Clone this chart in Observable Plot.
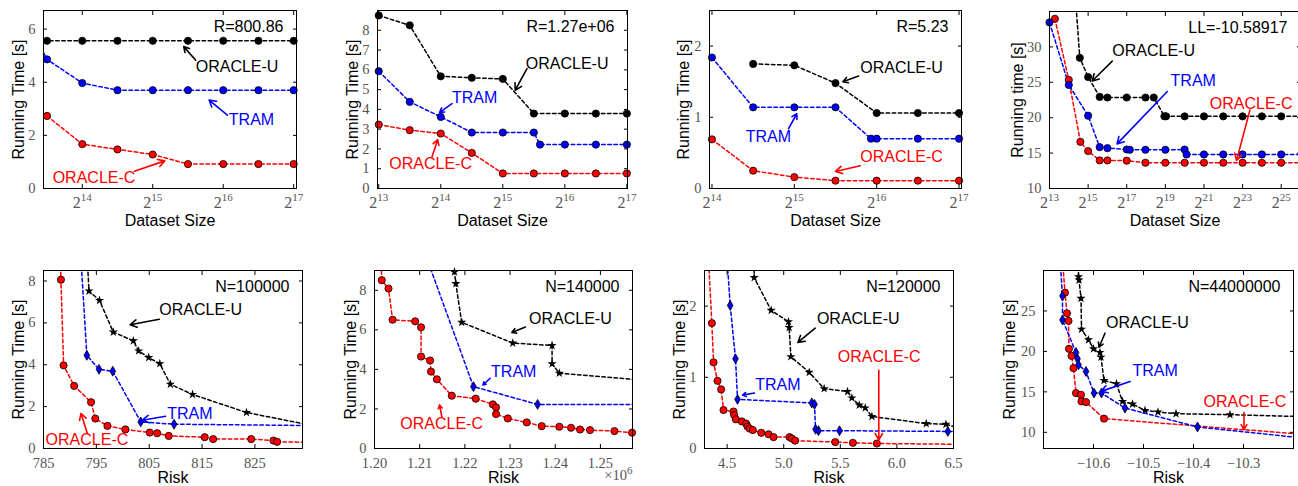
<!DOCTYPE html>
<html><head><meta charset="utf-8">
<script src="https://cdn.jsdelivr.net/npm/d3@7"></script>
<script src="https://cdn.jsdelivr.net/npm/@observablehq/plot@0.6"></script>
<style>
body{margin:0;background:#fff;}
#wrap{position:relative;width:1298px;height:486px;overflow:hidden;background:#fff;}
.pan{position:absolute;}
</style></head><body><div id="wrap"></div>
<script>
// ---------- DATA (x, y[, 0 = line vertex without marker]) ----------
// Top row: x is log2(dataset size)
const p1U = [[13.45,5.56,0],[13.5,5.56],[14,5.56],[14.5,5.56],[15,5.56],[15.5,5.56],[16,5.56],[16.5,5.56],[17,5.56]];
const p1T = [[13.45,5.12,0],[13.5,4.86],[14,3.97],[14.5,3.70],[15,3.70],[15.5,3.70],[16,3.70],[16.5,3.70],[17,3.70]];
const p1C = [[13.5,2.73],[14,1.67],[14.5,1.47],[15,1.28],[15.5,0.92],[16,0.92],[16.5,0.92],[17,0.92]];

const p2U = [[13,8.75],[13.5,8.25],[14,5.67],[14.5,5.6],[15,5.54],[15.5,3.79],[16,3.79],[16.5,3.79],[17,3.79]];
const p2T = [[13,5.93],[13.5,4.38],[14,3.62],[14.5,2.83],[15,2.83],[15.5,2.83],[15.6,2.22],[16,2.22],[16.5,2.22],[17,2.22]];
const p2C = [[13,3.23],[13.5,2.95],[14,2.78],[14.5,1.8],[15,0.76],[15.5,0.76],[16,0.76],[16.5,0.76],[17,0.76]];

const p3U = [[14.5,1.75],[15,1.73],[15.5,1.48],[16,1.06],[16.5,1.06],[17,1.06]];
const p3T = [[14,1.84],[14.5,1.14],[15,1.14],[15.5,1.14],[15.93,0.70],[16,0.70],[16.5,0.70],[17,0.70]];
const p3C = [[14,0.69],[14.5,0.25],[15,0.16],[15.5,0.11],[16,0.11],[16.5,0.11],[17,0.11]];

const p4U = [[14.38,35.6,0],[14.57,28.46],[15,25.75],[15.6,22.94],[16,22.85],[17,22.85],[17.97,22.85],[18.4,22.85],[18.95,20.2],[19.04,20.2],[20,20.19],[21,20.19],[22,20.19],[23,20.19],[24,20.19],[25,20.19],[26,20.19,0]];
const p4T = [[13,33.46],[14,24.63],[15,20.28],[15.6,15.84],[16,15.7],[17,15.51],[17.16,15.47],[17.97,15.47],[19,15.47],[20,15.5],[20.1,14.81],[21,14.81],[22,14.81],[23,14.81],[24,14.81],[25,14.81],[26,14.81,0]];
const p4C = [[13.28,33.97],[14,25.33],[14.6,16.59],[15,15.28],[15.6,13.97],[16,13.97],[17,13.93],[17.97,13.64],[19,13.64],[20,13.64],[21,13.64],[22,13.64],[23,13.64],[24,13.64],[25,13.64],[26,13.64,0]];

// Bottom row: x is risk
const p5U = [[793.3,9,0],[793.6,7.52],[795.6,7.07],[798.2,5.56],[802.0,5.14],[803.0,4.66],[804.9,4.34],[807.0,4.05],[809.0,3.07],[813.2,2.58],[823.4,1.72],[834,1.19,0]];
const p5T = [[792.1,9,0],[793.2,4.45],[795.5,3.78],[798.1,3.69],[803.4,1.27],[809.7,1.16],[834,1.1,0]];
const p5C = [[788.2,9,0],[788.3,8.06],[788.8,3.97],[790.8,2.99],[794.0,2.21],[794.8,1.43],[797.1,1.08],[800.5,0.91],[805.1,0.76],[806.5,0.73],[808.7,0.60],[815.5,0.54],[817.1,0.45],[824.3,0.45],[828.5,0.38],[829.2,0.32],[834,0.3,0]];

const p6U = [[1.2175,9.3,0],[1.2177,8.93],[1.2180,8.34],[1.2193,6.38],[1.2306,5.33],[1.2393,5.21],[1.2393,4.28],[1.2409,3.81],[1.2572,3.5,0]];
const p6T = [[1.2124,9.1,0],[1.2219,3.13],[1.2361,2.23],[1.2572,2.23,0]];
const p6C = [[1.2015,9.3,0],[1.2016,8.51],[1.2031,8.09],[1.2040,6.51],[1.2090,6.43],[1.2103,6.13],[1.2103,4.65],[1.2123,4.45],[1.2125,3.89],[1.2138,3.50],[1.2171,2.67],[1.2224,2.52],[1.2262,2.23],[1.2269,2.08],[1.2269,1.74],[1.2295,1.52],[1.2337,1.32],[1.2370,1.13],[1.2409,1.10],[1.2435,1.05],[1.2455,0.96],[1.2477,0.93],[1.2531,0.88],[1.2570,0.80]];

const p7U = [[4.738,2.6,0],[4.739,2.40],[4.889,1.94],[5.042,1.78],[5.048,1.70],[5.063,1.29],[5.225,1.07],[5.357,0.84],[5.564,0.80],[5.602,0.71],[5.667,0.61],[5.720,0.57],[5.779,0.45],[6.259,0.35],[6.433,0.34],[6.5,0.31,0]];
const p7T = [[4.502,2.6,0],[4.527,2.01],[4.574,1.26],[4.592,0.69],[5.248,0.64],[5.272,0.62],[5.281,0.27],[5.307,0.25],[5.493,0.25],[6.45,0.24],[6.5,0.24,0]];
const p7C = [[4.337,2.6,0],[4.365,1.76],[4.380,1.21],[4.415,0.95],[4.447,0.83],[4.468,0.54],[4.556,0.52],[4.562,0.47],[4.577,0.41],[4.630,0.38],[4.668,0.35],[4.680,0.31],[4.698,0.28],[4.727,0.26],[4.801,0.22],[4.866,0.20],[4.910,0.16],[5.051,0.16],[5.072,0.14],[5.101,0.11],[5.455,0.09],[5.611,0.08],[5.823,0.07],[6.5,0.06,0]];

const p8U = [[-10.630,30.5,0],[-10.630,29.24],[-10.629,28.82],[-10.625,26.56],[-10.624,22.74],[-10.610,21.43],[-10.600,20.32],[-10.587,19.86],[-10.585,19.29],[-10.579,16.41],[-10.554,16.0],[-10.542,13.82],[-10.522,13.49],[-10.497,12.71],[-10.471,12.51],[-10.435,12.30],[-10.327,12.18],[-10.2,11.97,0]];
const p8T = [[-10.666,30.5,0],[-10.662,26.85],[-10.662,23.89],[-10.635,19.86],[-10.632,19.08],[-10.630,18.34],[-10.615,17.52],[-10.599,14.85],[-10.584,14.85],[-10.537,13.0],[-10.392,10.66],[-10.2,9.42,0]];
const p8C = [[-10.661,30.5,0],[-10.657,27.26],[-10.653,24.71],[-10.650,23.77],[-10.649,20.32],[-10.644,19.45],[-10.640,17.93],[-10.635,14.85],[-10.625,14.64],[-10.624,13.82],[-10.615,13.74],[-10.579,11.69],[-10.2,9.84,0]];

// Tick values
const ticksX = [[14,15,16,17],[13,14,15,16,17],[14,15,16,17],[13,15,17,19,21,23,25],
                [785,795,805,815,825],[1.20,1.21,1.22,1.23,1.24,1.25],[4.5,5.0,5.5,6.0,6.5],[-10.6,-10.5,-10.4,-10.3]];
const ticksY = [[0,2,4,6],[0,1,2,3,4,5,6,7,8],[0,1,2],[10,15,20,25,30],
                [0,2,4,6,8],[0,2,4,6,8],[0,1,2],[10,15,20,25]];
const cornerLabels = ["R=800.86","R=1.27e+06","R=5.23","LL=-10.58917","N=100000","N=140000","N=120000","N=44000000"];

// Annotations: [text, x, y, arrow x1, y1, x2, y2, series]
const notes = [
  [["ORACLE-U",15.61,4.58,15.61,4.83,15.44,5.34,"U"],["TRAM",16.08,2.57,16.06,2.76,15.8,3.33,"T"],["ORACLE-C",13.58,0.4,14.74,0.65,15.17,1.04,"C"]],
  [["ORACLE-U",15.37,6.31,15.39,6.06,15.2,4.97,"U"],["TRAM",14.18,4.6,14.18,4.29,13.98,3.84,"T"],["ORACLE-C",13.17,1.23,13.86,1.6,13.95,2.47,"C"]],
  [["ORACLE-U",15.8,1.69,15.78,1.58,15.59,1.5,"U"],["TRAM",14.41,0.73,14.93,0.84,15.03,1.05,"T"],["ORACLE-C",15.8,0.45,15.8,0.32,15.5,0.24,"C"]],
  [["ORACLE-U",16.25,29.4,16.25,28.0,15.21,25.19,"U"],["TRAM",19.27,25.19,19.1,23.7,16.5,16.3,"T"],["ORACLE-C",21.3,22.0,23.38,21.07,22.69,13.97,"C"]],
  [["ORACLE-U",806.9,6.6,806.9,6.17,801.4,5.91,"U"],["TRAM",808.4,1.67,808.1,1.54,803.7,1.35,"T"],["ORACLE-C",785.4,0.4,793.3,0.72,792.1,1.67,"C"]],
  [["ORACLE-U",1.2342,6.57,1.2334,6.14,1.2304,5.87,"U"],["TRAM",1.2258,3.89,1.2256,3.55,1.2240,3.21,"T"],["ORACLE-C",1.2057,1.24,1.2149,1.61,1.2144,2.2,"C"]],
  [["ORACLE-U",5.293,1.82,5.278,1.69,5.125,1.49,"U"],["TRAM",4.748,0.90,4.742,0.78,4.636,0.75,"T"],["ORACLE-C",5.478,1.28,5.84,1.10,5.84,0.12,"C"]],
  [["ORACLE-U",-10.575,23.56,-10.577,22.25,-10.589,20.52,"U"],["TRAM",-10.522,17.6,-10.527,16.29,-10.585,15.06,"T"],["ORACLE-C",-10.38,13.74,-10.299,12.47,-10.299,10.33,"C"]]
];

// ---------- STYLE / LAYOUT ----------
const SANS = "'Liberation Sans', Arial, Helvetica, sans-serif";
const SERIF = "'Liberation Serif', 'DejaVu Serif', serif";
const GRAY = "#555";
const COL = {U: "#000000", T: "#0000ff", C: "#ff0000"};

const panels = [
  {frame:[43,10,296,188], log2:true, xDomain:[13.45,17.04], yDomain:[0,6.7], series:[p1C,p1T,p1U], yTitle:"Running Time [s]", yOff:25, xTitle:"Dataset Size"},
  {frame:[377,10,627,188], log2:true, xDomain:[12.98,17.01], yDomain:[0,9], series:[p2C,p2T,p2U], yTitle:"Running Time [s]", yOff:25, xTitle:"Dataset Size"},
  {frame:[709,10,961,188], log2:true, xDomain:[13.97,17.03], yDomain:[0,2.5], series:[p3C,p3T,p3U], yTitle:"Running Time [s]", yOff:26, xTitle:"Dataset Size"},
  {frame:[1049,11,1300,188], log2:true, xDomain:[13,26], yDomain:[10,35], series:[p4C,p4T,p4U], yTitle:"Running time [s]", yOff:32, xTitle:"Dataset Size"},
  {frame:[43,270,302,448], log2:false, xDomain:[785,834], yDomain:[0,8.5], series:[p5C,p5T,p5U], fmt:d3.format("d"), yTitle:"Running Time [s]", yOff:25, xTitle:"Risk", row2:true},
  {frame:[374,270,632,448], log2:false, xDomain:[1.2,1.2571], yDomain:[0,9], series:[p6C,p6T,p6U], fmt:d3.format(".2f"), yTitle:"Running Time [s]", yOff:24, xTitle:"Risk", row2:true, scaleNote:"×10^6"},
  {frame:[704,270,953,448], log2:false, xDomain:[4.3,6.5], yDomain:[0,2.5], series:[p7C,p7T,p7U], fmt:d3.format(".1f"), yTitle:"Running Time [s]", yOff:25, xTitle:"Risk", row2:true},
  {frame:[1043,270,1293,448], log2:false, xDomain:[-10.7,-10.2], yDomain:[8,30], series:[p8C,p8T,p8U], fmt:d3.format(".1f"), yTitle:"Running Time [s]", yOff:34, xTitle:"Risk", row2:true}
];
const keys = ["C","T","U"];
const yFmt = d3.format("~g");

function makePanel(cfg, i) {
  const mL = 52, mR = 8, mT = 10, mB = 52;
  const [fx0, fy0, fx1, fy1] = cfg.frame;
  const W = fx1 - fx0 + mL + mR, H = fy1 - fy0 + mT + mB;
  const X = cfg.log2 ? (v => 2 ** v) : (v => v);
  const xScale = cfg.log2
    ? {type: "log", base: 2, domain: cfg.xDomain.map(X)}
    : {type: "linear", domain: cfg.xDomain};
  const xt = ticksX[i].map(X);
  const xFmt = cfg.log2 ? (d => "2^" + Math.round(Math.log2(d))) : cfg.fmt;
  const marks = [];
  cfg.series.forEach((s, k) => {
    marks.push(Plot.line(s, {x: d => X(d[0]), y: d => d[1], stroke: COL[keys[k]], strokeWidth: 1.5, strokeDasharray: "3.5,2.6", clip: true}));
  });
  cfg.series.forEach((s, k) => {
    const key = keys[k];
    const pts = s.filter(d => d[2] !== 0);
    let sym = "circle", r = 3.6, stroke = "#000", sw = 0.8;
    if (cfg.row2 && key === "U") { sym = "star"; r = 2.9; stroke = "none"; }
    if (cfg.row2 && key === "T") { sym = "diamond"; r = 3.0; }
    marks.push(Plot.dot(pts, {x: d => X(d[0]), y: d => d[1], symbol: sym, r, fill: COL[key], stroke, strokeWidth: sw}));
  });
  const nt = notes[i];
  marks.push(Plot.arrow(nt, {x1: d => X(d[3]), y1: d => d[4], x2: d => X(d[5]), y2: d => d[6], stroke: d => COL[d[7]], strokeWidth: 1.6, headLength: 7}));
  marks.push(Plot.text(nt, {x: d => X(d[1]), y: d => d[2], text: d => d[0], fill: d => COL[d[7]], textAnchor: "start", lineAnchor: "middle", fontSize: 16, fontFamily: SANS}));
  marks.push(Plot.text([cornerLabels[i]], {text: d => d, frameAnchor: "top-right", dx: -13, dy: 16, textAnchor: "end", lineAnchor: "middle", fontSize: 16, fontFamily: SANS, fill: "#000"}));
  // axes: labels on bottom/left, inward ticks on all four sides
  marks.push(Plot.axisX({ticks: xt, anchor: "bottom", tickSize: -4, tickPadding: cfg.row2 ? 13 : 12, tickFormat: xFmt, label: null, fontSize: cfg.row2 ? 14.5 : 16, fontFamily: SERIF, fill: GRAY, stroke: "#000"}));
  marks.push(Plot.axisX({ticks: xt, anchor: "top", tickSize: -4, tickFormat: () => "", label: null, stroke: "#000"}));
  marks.push(Plot.axisY({ticks: ticksY[i], anchor: "left", tickSize: -4, tickPadding: 12, tickFormat: yFmt, label: null, fontSize: 14.5, fontFamily: SERIF, fill: GRAY, stroke: "#000"}));
  marks.push(Plot.axisY({ticks: ticksY[i], anchor: "right", tickSize: -4, tickFormat: () => "", label: null, stroke: "#000"}));
  marks.push(Plot.frame({stroke: "#000", strokeWidth: 1}));
  marks.push(Plot.text([cfg.yTitle], {text: d => d, frameAnchor: "left", rotate: -90, dx: -cfg.yOff, textAnchor: "middle", lineAnchor: "middle", fontSize: 16, fontFamily: SANS, fill: "#000"}));
  marks.push(Plot.text([cfg.xTitle], {text: d => d, frameAnchor: "bottom", dy: cfg.row2 ? 29 : 32, textAnchor: "middle", lineAnchor: "middle", fontSize: 16, fontFamily: SANS, fill: "#000"}));
  if (cfg.scaleNote) {
    marks.push(Plot.text([cfg.scaleNote], {text: d => d, frameAnchor: "bottom-right", dy: 27, textAnchor: "end", lineAnchor: "middle", fontSize: 14.5, fontFamily: SERIF, fill: GRAY}));
  }
  const svg = Plot.plot({
    width: W, height: H,
    marginLeft: mL, marginRight: mR, marginTop: mT, marginBottom: mB,
    x: xScale, y: {domain: cfg.yDomain},
    color: {type: "identity"},
    style: {background: "transparent", maxWidth: "none", overflow: "visible", fontFamily: SANS},
    marks
  });
  // superscripts (2^14, ×10^6)
  d3.select(svg).selectAll("text").each(function () {
    const t = this.textContent;
    if (!t.includes("^")) return;
    const [b, e] = t.split("^");
    const sel = d3.select(this);
    sel.text(null);
    sel.append("tspan").text(b);
    sel.append("tspan").attr("dy", cfg.row2 ? -6 : -7).attr("font-size", 11).text(e);
  });
  const div = document.createElement("div");
  div.className = "pan";
  div.style.left = (fx0 - mL) + "px";
  div.style.top = (fy0 - mT) + "px";
  div.appendChild(svg);
  return div;
}

const wrap = document.getElementById("wrap");
panels.forEach((p, i) => wrap.appendChild(makePanel(p, i)));
</script>
</body></html>
